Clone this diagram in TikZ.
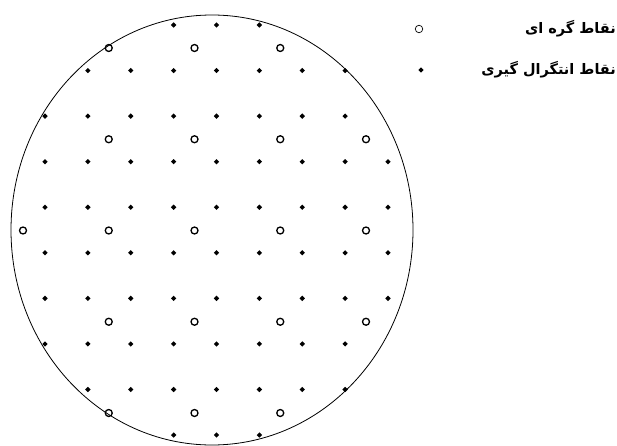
\documentclass[tikz,border=0pt]{standalone}
\usepackage{fontspec}
\newfontfamily\arabicfont[Script=Arabic]{DejaVu Sans}
\TeXXeTstate=1
\usetikzlibrary{shapes.geometric}
\tikzset{
  nodal/.style={circle, draw, line width=1.3pt, inner sep=0pt, minimum size=7pt},
  gauss/.style={diamond, fill=black, inner sep=0pt, minimum size=5.5pt},
  lgnodal/.style={circle, draw, line width=0.7pt, inner sep=0pt, minimum size=7.5pt},
  lgtext/.style={anchor=east, inner sep=0pt, font=\arabicfont\bfseries\fontsize{14.5}{16}\selectfont},
}
\begin{document}
\begin{tikzpicture}[x=1pt, y=-1pt]
\useasboundingbox (0,0) rectangle (617,446);
% domain
\coordinate (ctr) at (212,230);
\draw[line width=0.8pt] (ctr) ellipse [x radius=201, y radius=215];
% integration points, row by row
\foreach \j/\cols in {0/{3,4,5}, 1/{1,2,3,4,5,6,7}, 2/{0,1,2,3,4,5,6,7},
    3/{0,1,2,3,4,5,6,7,8}, 4/{0,1,2,3,4,5,6,7,8}, 5/{0,1,2,3,4,5,6,7,8},
    6/{0,1,2,3,4,5,6,7,8}, 7/{0,1,2,3,4,5,6,7}, 8/{1,2,3,4,5,6,7}, 9/{3,4,5}}
  \foreach \i in \cols
    \node[gauss] (g-\j-\i) at ({45+42.875*\i},{25+45.56*\j}) {};
% nodal points
\foreach \j/\cols in {0/{1,2,3}, 1/{1,2,3,4}, 2/{0,1,2,3,4}, 3/{1,2,3,4}, 4/{1,2,3}}
  \foreach \i in \cols
    \node[nodal] (n-\j-\i) at ({23+85.75*\i},{48+91.25*\j}) {};
% legend
\node[lgnodal] (lgn) at (419,29) {};
\node[gauss] (lgg) at (421,70) {};
\node[lgtext] (lgnt) at (616,29) {\beginR نقاط گره ای\endR};
\node[lgtext] (lggt) at (616,70) {\beginR نقاط انتگرال گیری\endR};
\end{tikzpicture}
\end{document}
